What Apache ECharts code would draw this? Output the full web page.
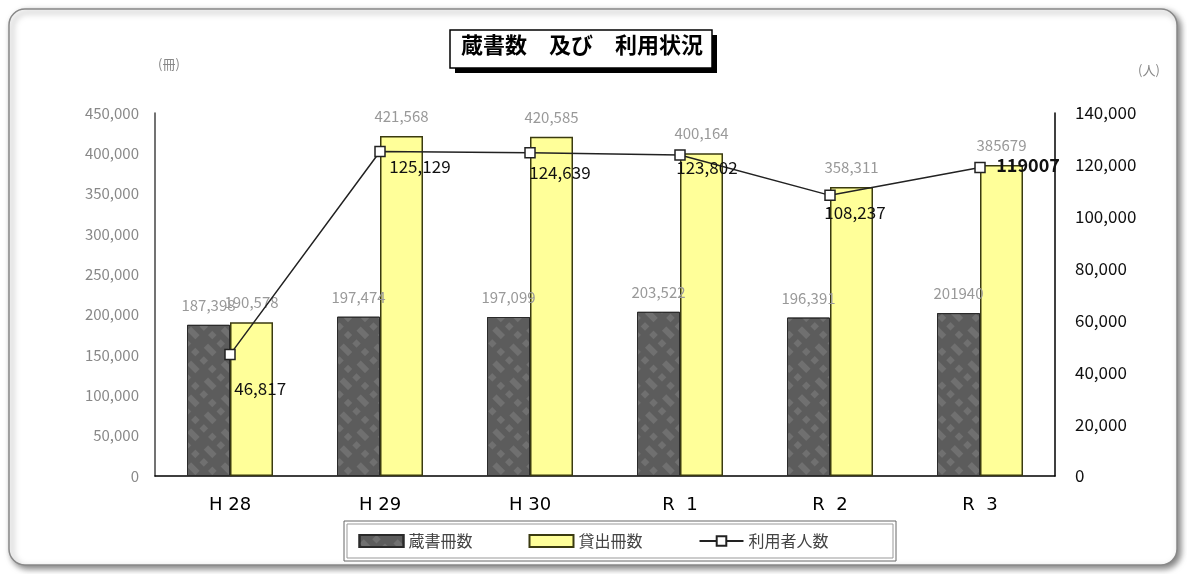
<!DOCTYPE html>
<html><head><meta charset="utf-8">
<script src="https://cdn.jsdelivr.net/npm/echarts@6/dist/echarts.min.js"></script>
<style>html,body{margin:0;padding:0;background:#fff;}#c{width:1187px;height:574px;}</style>
</head><body><div id="c"></div>
<script>
const categories = ['H 28', 'H 29', 'H 30', 'R  1', 'R  2', 'R  3'];
const zoshoValues = [187398, 197474, 197099, 203522, 196391, 201940];
const kashidashiValues = [190578, 421568, 420585, 400164, 358311, 385679];
const riyoshaValues = [46817, 125129, 124639, 123802, 108237, 119007];
const leftTicks = [0, 50000, 100000, 150000, 200000, 250000, 300000, 350000, 400000, 450000];
const rightTicks = [0, 20000, 40000, 60000, 80000, 100000, 120000, 140000];

// label placement (style only), relative to the marker box
const lineLabelPos = [[10, 31], [15, 12], [5, 17], [2, 10], [0, 14], [22, -6]];

const FONT = '"Noto Sans CJK JP", "Noto Sans", sans-serif';
const fmt = (v, i) => (i === categories.length - 1 ? String(v) : v.toLocaleString('en-US'));

const lineData = riyoshaValues.map((v, i) => ({
  value: v,
  label: i === categories.length - 1
    ? { position: lineLabelPos[i], fontWeight: 'bold', fontSize: 18 }
    : { position: lineLabelPos[i] }
}));

const chart = echarts.init(document.getElementById('c'));
chart.setOption({
  animation: false,
  textStyle: { fontFamily: FONT },
  graphic: [
    { type: 'rect', z: -10, shape: { x: 9, y: 9, width: 1168, height: 556, r: 16 },
      style: { fill: '#fff', stroke: '#888', lineWidth: 1.5, shadowBlur: 6, shadowOffsetX: 3, shadowOffsetY: 3, shadowColor: 'rgba(0,0,0,0.5)' } },
    { type: 'rect', z: 10, shape: { x: 455, y: 35, width: 262, height: 38 }, style: { fill: '#000' } },
    { type: 'rect', z: 11, shape: { x: 450, y: 30, width: 262, height: 38 }, style: { fill: '#fff', stroke: '#000', lineWidth: 1.5 } },
    { type: 'text', z: 12, left: 461, top: 34, style: { text: '蔵書数　及び　利用状況', font: 'bold 22px ' + FONT, fill: '#000' } },
    { type: 'text', left: 158, top: 58, style: { text: '(冊)', font: '13px ' + FONT, fill: '#888' } },
    { type: 'text', left: 1138, top: 64, style: { text: '(人)', font: '13px ' + FONT, fill: '#888' } },
    { type: 'rect', z: 5, shape: { x: 344, y: 521, width: 552, height: 40 }, style: { fill: '#fff', stroke: '#666', lineWidth: 1 } },
    { type: 'rect', z: 5, shape: { x: 347, y: 524, width: 546, height: 34 }, style: { fill: 'none', stroke: '#999', lineWidth: 1 } }
  ],
  legend: {
    z: 20,
    left: 'center', top: 528, itemGap: 56, itemWidth: 44, itemHeight: 12,
    textStyle: { fontSize: 16, color: '#444', fontFamily: FONT },
    data: [
      { name: '蔵書冊数', icon: 'rect' },
      { name: '貸出冊数', icon: 'rect' },
      { name: '利用者人数' }
    ]
  },
  grid: { left: 155, right: 132, top: 113, bottom: 98 },
  xAxis: {
    type: 'category', data: categories,
    axisLine: { lineStyle: { color: '#000', width: 1.5 } },
    axisTick: { show: false },
    axisLabel: { fontSize: 18, color: '#000', margin: 20, fontFamily: 'DejaVu Sans, sans-serif' }
  },
  yAxis: [
    { type: 'value', min: 0, max: 450000, interval: 50000, position: 'left',
      axisLine: { show: true, lineStyle: { color: '#444', width: 1.5 } },
      axisTick: { show: false }, splitLine: { show: false },
      axisLabel: { fontSize: 15, color: '#888', margin: 16, formatter: v => v.toLocaleString('en-US') } },
    { type: 'value', min: 0, max: 140000, interval: 20000, position: 'right',
      axisLine: { show: true, lineStyle: { color: '#000', width: 1.5 } },
      axisTick: { show: false }, splitLine: { show: false },
      axisLabel: { fontSize: 17, color: '#111', margin: 20, formatter: v => v.toLocaleString('en-US') } }
  ],
  series: [
    { name: '蔵書冊数', type: 'bar', yAxisIndex: 0, data: zoshoValues, barWidth: 43, barGap: '0%',
      itemStyle: { color: '#5c5c5c', borderColor: '#2a2a2a', borderWidth: 1,
        decal: { symbol: 'rect', symbolSize: 1, color: 'rgba(255,255,255,0.12)', dashArrayX: [[6, 6], [0, 6, 6]], dashArrayY: [6, 6], rotation: 0.785 } },
      label: { show: true, position: 'top', distance: 12, fontSize: 15, color: '#999', formatter: p => fmt(p.value, p.dataIndex) } },
    { name: '貸出冊数', type: 'bar', yAxisIndex: 0, data: kashidashiValues, barWidth: 43,
      itemStyle: { color: '#ffff99', borderColor: '#3a3a10', borderWidth: 1.5 },
      label: { show: true, position: 'top', distance: 12, fontSize: 15, color: '#999', formatter: p => fmt(p.value, p.dataIndex) } },
    { name: '利用者人数', type: 'line', yAxisIndex: 1, data: lineData, z: 10,
      symbol: 'rect', symbolSize: 10, showAllSymbol: true,
      lineStyle: { color: '#222', width: 1.5 },
      itemStyle: { color: '#fff', borderColor: '#222', borderWidth: 1.5 },
      label: { show: true, fontSize: 17, color: '#111', formatter: p => fmt(p.value, p.dataIndex) }
    }
  ]
});
</script>
</body></html>
